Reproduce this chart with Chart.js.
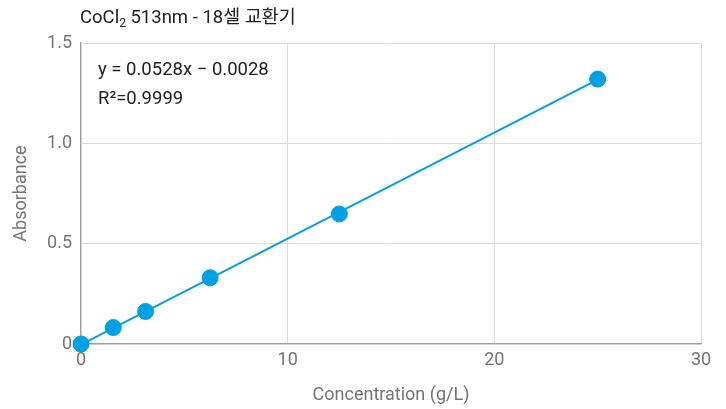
<!DOCTYPE html>
<html>
<head>
<meta charset="utf-8">
<script src="https://cdn.jsdelivr.net/npm/chart.js@4.4.0/dist/chart.umd.min.js"></script>
<style>
  html, body { margin: 0; padding: 0; background: #fff; }
  #wrap { width: 726px; height: 409px; }
</style>
</head>
<body>
<div id="wrap"><canvas id="calChart" width="726" height="409"></canvas></div>
<script>
// measured standards
const concentration = [0, 1.5625, 3.125, 6.25, 12.5, 25];
const absorbance = [0, 0.082, 0.162, 0.33, 0.648, 1.32];
// linear fit from the sheet
const slope = 0.0528;
const intercept = -0.0028;
const xTicks = [0, 10, 20, 30];
const yTicks = [0, 0.5, 1.0, 1.5];

const fitX = [0, 25];
const fitLine = fitX.map(x => ({ x: x, y: slope * x + intercept }));
const points = concentration.map((c, i) => ({ x: c, y: absorbance[i] }));

const FONT = "Roboto, 'Noto Sans CJK KR', sans-serif";
const BLUE = '#00a0e4';

const labelsPlugin = {
  id: 'labels',
  afterDraw(chart) {
    const ctx = chart.ctx;
    ctx.save();
    ctx.fillStyle = '#212121';
    ctx.textBaseline = 'alphabetic';
    ctx.textAlign = 'left';
    // title with subscript
    let x = 80;
    ctx.font = '18.5px ' + FONT;
    ctx.fillText('CoCl', x, 23);
    x += ctx.measureText('CoCl').width;
    ctx.font = '12px ' + FONT;
    ctx.fillText('2', x, 27);
    x += ctx.measureText('2').width;
    ctx.font = '18.5px ' + FONT;
    ctx.fillText(' 513nm - 18셀 교환기', x, 23);
    // equation
    const a = chart.chartArea;
    ctx.font = '18.5px ' + FONT;
    ctx.fillText('y = ' + slope.toFixed(4) + 'x \u2212 ' + Math.abs(intercept).toFixed(4), a.left + 17, 75);
    ctx.fillText('R\u00b2=0.9999', a.left + 17, 104);
    ctx.restore();
  }
};

new Chart(document.getElementById('calChart'), {
  type: 'scatter',
  data: {
    datasets: [{
      type: 'line',
      data: fitLine,
      borderColor: BLUE,
      borderWidth: 2,
      pointRadius: 0,
      fill: false,
      clip: false,
      order: 2
    }, {
      data: points,
      backgroundColor: BLUE,
      borderColor: BLUE,
      pointRadius: 8,
      pointHoverRadius: 8,
      clip: false,
      order: 1
    }]
  },
  options: {
    responsive: false,
    animation: false,
    layout: { padding: { top: 43, right: 25, left: 0, bottom: 0 } },
    plugins: {
      legend: { display: false },
      tooltip: { enabled: false }
    },
    scales: {
      x: {
        type: 'linear',
        min: 0, max: 30,
        afterBuildTicks: s => { s.ticks = xTicks.map(v => ({ value: v })); },
        afterFit: s => { s.height = 65; },
        ticks: { color: '#757575', font: { family: FONT, size: 18 }, padding: 6 },
        grid: { color: '#dcdcdc', drawTicks: false },
        border: { color: '#9e9e9e', width: 1.2 },
        title: { display: true, text: 'Concentration (g/L)', color: '#757575',
                 font: { family: FONT, size: 18 }, padding: { bottom: 3 } }
      },
      y: {
        min: 0, max: 1.5,
        afterBuildTicks: s => { s.ticks = yTicks.map(v => ({ value: v })); },
        afterFit: s => { s.width = 81; },
        ticks: { color: '#757575', font: { family: FONT, size: 18 }, padding: 9,
                 callback: v => v === 0 ? '0' : v.toFixed(1) },
        grid: { color: '#dcdcdc', drawTicks: false },
        border: { color: '#9e9e9e', width: 1.2 },
        title: { display: true, text: 'Absorbance', color: '#757575',
                 font: { family: FONT, size: 18 }, padding: { top: 11 } }
      }
    }
  },
  plugins: [labelsPlugin]
});
</script>
</body>
</html>
